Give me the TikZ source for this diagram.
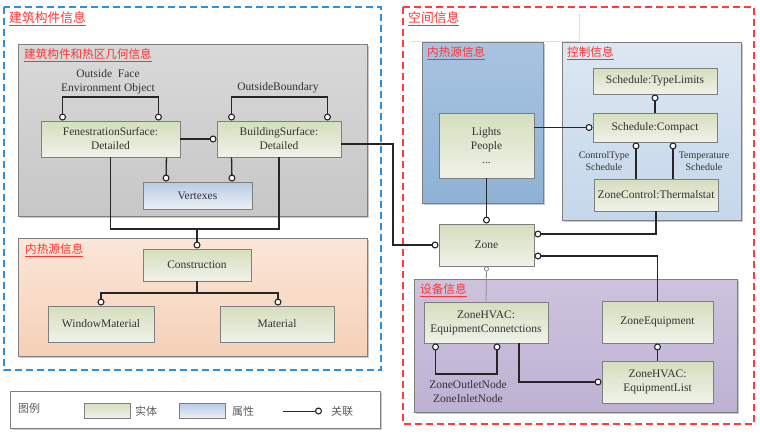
\documentclass[tikz,border=0pt]{standalone}
\usepackage{fontspec}
\setmainfont{Liberation Serif}
\newfontfamily\cjk{Noto Sans CJK SC}
\usetikzlibrary{arrows.meta,shadows}
\definecolor{entTop}{HTML}{D5DEBD}
\definecolor{entBot}{HTML}{F0F2E9}
\definecolor{attTop}{HTML}{B8CCE4}
\definecolor{attBot}{HTML}{EAEFF6}
\definecolor{bordc}{HTML}{7F7F7F}
\definecolor{linec}{HTML}{262626}
\definecolor{titred}{HTML}{FF3333}
\definecolor{dblue}{HTML}{2F8FDA}
\definecolor{dred}{HTML}{FF3B3B}
\definecolor{txtc}{HTML}{333333}
\tikzset{
  oc/.tip={Circle[length=7pt,width=7pt,line width=1.1pt,fill=white]},
  os/.tip={Circle[length=5pt,width=5pt,line width=0.8pt,fill=white]},
  shad/.style={drop shadow={shadow xshift=1.3pt,shadow yshift=-1.3pt,opacity=0.35,fill=black!60}},
  ent/.style={draw=bordc,line width=0.9pt,top color=entTop,bottom color=entBot,shad,
    align=center,inner sep=0pt,text=txtc,font=\fontsize{11.5}{14}\selectfont},
  attr/.style={ent,top color=attTop,bottom color=attBot},
  grp/.style={draw=bordc,line width=0.9pt,shad,anchor=north west,inner sep=0pt},
  grptitle/.style={anchor=west,inner sep=0pt,text=titred,font=\cjk\fontsize{11.6}{13}\selectfont},
  bigtitle/.style={anchor=west,inner sep=0pt,text=titred,font=\cjk\fontsize{12.8}{14}\selectfont},
  lbl/.style={align=center,inner sep=0pt,text=txtc,font=\fontsize{11.5}{14}\selectfont},
  slbl/.style={align=center,inner sep=0pt,text=txtc,font=\fontsize{10}{12}\selectfont},
  conn/.style={draw=linec,line width=1.3pt},
  outer/.style={line width=1.5pt,dash pattern=on 7pt off 4pt},
  legtxt/.style={inner sep=0pt,text=txtc!80,font=\cjk\fontsize{11}{13}\selectfont},
}
\begin{document}
\begin{tikzpicture}[x=1pt,y=-1pt]
\useasboundingbox (0,0) rectangle (760,434);
\fill[white] (0,0) rectangle (760,434);

% ---------- outer dashed frames ----------
\draw[outer,dblue] (4,7) rectangle (381,370);
\draw[outer,dred] (403,7) rectangle (754,424);
\draw[black!12,line width=0.8pt] (410,41) -- (579,41) -- (579,13);
\node[bigtitle] (t1) at (9,19) {\underline{建筑构件信息}};
\node[bigtitle] (t2) at (408,19) {\underline{空间信息}};

% ---------- group boxes ----------
\node[grp,top color=black!15,bottom color=black!22,minimum width=349pt,minimum height=172pt] (ggeo) at (18,44) {};
\node[grp,top color={rgb,255:red,251;green,230;blue,216},bottom color={rgb,255:red,245;green,208;blue,183},minimum width=349pt,minimum height=118pt] (gheat) at (18,238) {};
\node[grp,top color={rgb,255:red,168;green,195;blue,224},bottom color={rgb,255:red,142;green,178;blue,214},minimum width=121pt,minimum height=161pt] (gint) at (422,42) {};
\node[grp,top color={rgb,255:red,220;green,231;blue,242},bottom color={rgb,255:red,197;green,215;blue,235},minimum width=179pt,minimum height=178pt] (gctl) at (562,42) {};
\node[grp,top color={rgb,255:red,205;green,195;blue,221},bottom color={rgb,255:red,190;green,178;blue,211},minimum width=323pt,minimum height=133pt] (gequ) at (414,279) {};

\node[grptitle] (tg1) at (24,55) {\underline{建筑构件和热区几何信息}};
\node[grptitle] (tg2) at (25,250) {\underline{内热源信息}};
\node[grptitle] (tg3) at (427,53) {\underline{内热源信息}};
\node[grptitle] (tg4) at (567,53) {\underline{控制信息}};
\node[grptitle] (tg5) at (420,290) {\underline{设备信息}};

% ---------- entity nodes ----------
\node[ent,minimum width=139pt,minimum height=36pt] (fen) at (110.5,139) {FenestrationSurface:\\Detailed};
\node[ent,minimum width=124pt,minimum height=36pt] (bsurf) at (279,139) {BuildingSurface:\\Detailed};
\node[attr,minimum width=109pt,minimum height=27pt] (vert) at (197.5,195.5) {Vertexes};
\node[ent,minimum width=108pt,minimum height=32pt] (constr) at (197,265) {Construction};
\node[ent,minimum width=106pt,minimum height=36pt] (winmat) at (101,324) {WindowMaterial};
\node[ent,minimum width=114pt,minimum height=36pt] (mat) at (277,324) {Material};

\node[ent,minimum width=95pt,minimum height=65pt] (lights) at (486.5,145.5) {Lights\\People\\...};
\node[ent,minimum width=124pt,minimum height=26pt] (stl) at (655,81) {Schedule:TypeLimits};
\node[ent,minimum width=124pt,minimum height=29pt] (scomp) at (655,127.5) {Schedule:Compact};
\node[ent,minimum width=124pt,minimum height=32pt] (zctl) at (656,195) {ZoneControl:Thermalstat};
\node[ent,minimum width=95pt,minimum height=42pt] (zone) at (486.5,245) {Zone};
\node[ent,minimum width=124pt,minimum height=41pt] (eqconn) at (486,322.5) {ZoneHVAC:\\EquipmentConnetctions};
\node[ent,minimum width=111pt,minimum height=42pt] (zeq) at (657.5,322) {ZoneEquipment};
\node[ent,minimum width=111pt,minimum height=42pt] (eqlist) at (657.5,382) {ZoneHVAC:\\EquipmentList};

% ---------- labels ----------
\node[lbl] (ofe) at (108,82) {Outside~ Face\\Environment Object};
\node[lbl] (ob) at (278,88) {OutsideBoundary};
\node[slbl] (cts) at (604,161) {ControlType\\Schedule};
\node[slbl] (tsc) at (704,161) {Temperature\\Schedule};
\node[lbl] (zin) at (468,392) {ZoneOutletNode\\ZoneInletNode};

% ---------- coordinates ----------
\coordinate (ofeTop) at (110,97);
\coordinate (obTop) at (280,97);
\coordinate (bus) at (197,229);
\coordinate (mbus) at (197,293);
\coordinate (jog) at (393,200);
\coordinate (brk) at (466,374);

% ---------- connectors ----------
\draw[conn,oc-oc] ([xshift=22pt]fen.north west) |- (ofeTop) -| ([xshift=-22pt]fen.north east);
\draw[conn,oc-oc] ([xshift=15pt]bsurf.north west) |- (obTop) -| ([xshift=-14pt]bsurf.north east);
\draw[conn,-oc] (fen.east) -- (bsurf.west);
\draw[conn,-oc] ([xshift=-14pt]fen.south east) -- ([xshift=-31.5pt]vert.north);
\draw[conn,-oc] ([xshift=15pt]bsurf.south west) -- ([xshift=34.5pt]vert.north);
\draw[conn] (fen.south) |- (bus) -| (bsurf.south);
\draw[conn,-oc] (bus) -- (constr.north);
\draw[conn] (constr.south) -- (mbus);
\draw[conn,-oc] (mbus) -| (winmat.north);
\draw[conn,-oc] (mbus) -| ([xshift=1pt]mat.north);
\draw[conn,-oc] ([yshift=-5pt]bsurf.east) -| (jog) |- (zone.west);

\draw[conn,-oc] (scomp.west -| lights.east) -- (scomp.west);
\draw[conn,oc-] (stl.south) -- (scomp.north);
\draw[conn,oc-] ([xshift=-19pt]scomp.south) -- ([xshift=-20pt]zctl.north);
\draw[conn,oc-] ([xshift=18pt]scomp.south) -- ([xshift=17pt]zctl.north);
\draw[conn,-oc] (lights.south) -- (zone.north);
\draw[conn,-oc] (zctl.south) |- ([yshift=11pt]zone.east);
\draw[conn,oc-] ([yshift=-11pt]zone.east) -| (zeq.north);
\draw[draw=black!45,line width=0.8pt,os-] (zone.south) -- (eqconn.north);
\draw[conn,oc-oc] ([xshift=12pt]eqconn.south west) |- (brk) -| ([xshift=11pt]eqconn.south);
\draw[conn,-oc] ([xshift=33pt]eqconn.south) |- (eqlist.west);
\draw[conn,oc-] (zeq.south) -- (eqlist.north);

% ---------- legend ----------
\node[grp,draw=black!50,fill=white,minimum width=370pt,minimum height=37pt] (leg) at (10,391) {};
\node[legtxt,anchor=west] (lg) at (18,408) {图例};
\node[ent,minimum width=46pt,minimum height=15pt] (sw1) at (107,410.5) {};
\node[legtxt] (lg1) at (146,411) {实体};
\node[attr,minimum width=46pt,minimum height=15pt] (sw2) at (202,410.5) {};
\node[legtxt] (lg2) at (243,411) {属性};
\coordinate (la) at (283,411);
\coordinate (lb) at (322,411);
\draw[draw=linec,line width=1pt,-oc] (la) -- (lb);
\node[legtxt] (lg3) at (342,411) {关联};
\end{tikzpicture}
\end{document}
